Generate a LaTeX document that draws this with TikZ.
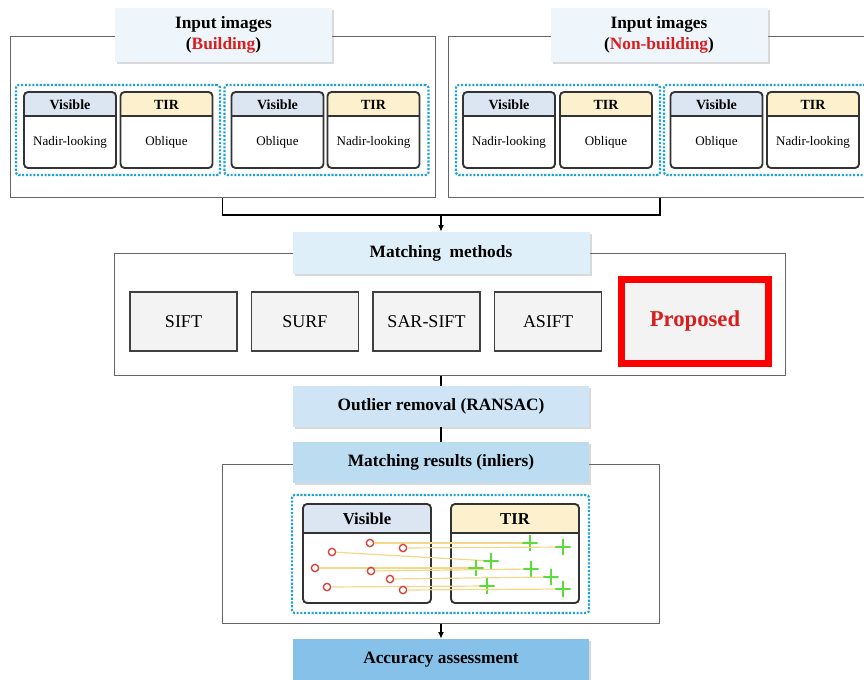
\documentclass[tikz,border=0pt]{standalone}
\usepackage{fontspec}
\setmainfont{Liberation Serif}
\usepackage{tikz}
\usetikzlibrary{shadows,arrows.meta}

\definecolor{titlefill}{HTML}{EEF5FB}
\definecolor{methfill}{HTML}{DFEFF9}
\definecolor{outfill}{HTML}{CFE5F5}
\definecolor{resfill}{HTML}{BCDCF1}
\definecolor{accfill}{HTML}{85C1E9}
\definecolor{visfill}{HTML}{DCE6F2}
\definecolor{tirfill}{HTML}{FDF0CC}
\definecolor{dotcyan}{HTML}{1FA2D5}
\definecolor{methgray}{HTML}{F3F3F3}
\definecolor{hotred}{HTML}{FF0000}
\definecolor{propred}{HTML}{D91E1E}
\definecolor{ptred}{HTML}{D9413A}
\definecolor{ptgreen}{HTML}{5ADD3A}
\definecolor{matchyel}{HTML}{F3D88C}

\tikzset{
	panel/.style={draw=black!60, line width=0.75pt, inner sep=0pt},
	headbox/.style={fill=#1, inner sep=0pt, align=center,
		drop shadow={shadow xshift=1.5pt, shadow yshift=-1.5pt, opacity=0.3},
		font=\fontsize{13}{15.5}\selectfont\bfseries},
	pairbox/.style={draw=dotcyan, line width=1.6pt, dash pattern=on 1.6pt off 1.2pt,
		rounded corners=2pt, inner sep=0pt},
	card/.style n args={2}{draw=black!80, line width=1.4pt, rounded corners=3pt,
		fill=white, inner sep=0pt,
		path picture={\fill[#1, sharp corners] (path picture bounding box.north west)
			rectangle ([yshift=-#2]path picture bounding box.north east);
			\draw[black!80, line width=1.4pt] ([yshift=-#2]path picture bounding box.north west)
			-- ([yshift=-#2]path picture bounding box.north east);}},
	cardhead/.style={font=\fontsize{10.5}{12}\selectfont\bfseries},
	cardbody/.style={font=\fontsize{9.8}{11}\selectfont},
	bighead/.style={font=\fontsize{12.5}{14}\selectfont\bfseries},
	method/.style={draw=black!75, line width=0.8pt, fill=methgray, inner sep=0pt,
		minimum width=80.25pt, minimum height=44.25pt, font=\fontsize{13.5}{15}\selectfont},
	link/.style={draw=black, line width=1.1pt},
	keypt/.style={circle, draw=ptred, line width=1pt, minimum size=5.5pt, inner sep=0pt},
	tirpt/.style={minimum size=11.5pt, inner sep=0pt,
		path picture={\draw[ptgreen, line width=1.9pt]
			(path picture bounding box.north) -- (path picture bounding box.south)
			(path picture bounding box.west) -- (path picture bounding box.east);}},
	match/.style={draw=matchyel, line width=0.9pt},
}

\begin{document}
\begin{tikzpicture}[x=0.75pt,y=-0.75pt]
	\useasboundingbox (0,0) rectangle (864,679);

	% input images
	\node[panel, minimum width=318.75pt, minimum height=120.75pt] (lbox) at (222.5,116.5) {};
	\node[panel, minimum width=318pt, minimum height=120.75pt] (rbox) at (660,116.5) {};
	\node[headbox=titlefill, minimum width=162.75pt, minimum height=40.5pt] (ltitle) at (223.5,35)
		{Input images\\(\textcolor{propred}{Building})};
	\node[headbox=titlefill, minimum width=162.75pt, minimum height=40.5pt] (rtitle) at (659,35)
		{Input images\\(\textcolor{propred}{Non-building})};
	\foreach \x/\n in {118/g1, 326.5/g2, 558/g3, 766/g4}
		\node[pairbox, minimum width=153pt, minimum height=67.5pt] (\n) at (\x,130) {};
	\foreach \x/\hc/\h/\b [count=\i] in {70/visfill/Visible/Nadir-looking, 166.5/tirfill/TIR/Oblique,
		277.5/visfill/Visible/Oblique, 373.5/tirfill/TIR/Nadir-looking,
		509/visfill/Visible/Nadir-looking, 606/tirfill/TIR/Oblique,
		716.5/visfill/Visible/Oblique, 813/tirfill/TIR/Nadir-looking}
	{
		\node[card={\hc}{18pt}, minimum width=69pt, minimum height=57pt] (c\i) at (\x,130) {};
		\node[cardhead] (c\i h) at (\x,104.5) {\h};
		\node[cardbody] (c\i b) at (\x,142.5) {\b};
	}

	% matching methods
	\coordinate (join) at (441,215);
	\draw[link] (lbox.south) |- (join) -| (rbox.south);
	\node[panel, minimum width=503.25pt, minimum height=91.5pt] (mbox) at (449.5,314) {};
	\node[headbox=methfill, minimum width=222.75pt, minimum height=31.5pt] (mtitle) at (441,253)
		{Matching\ \ methods};
	\draw[link, -{Latex[length=5pt,width=4.5pt]}] (join) -- (mtitle.north);
	\foreach \x/\m [count=\i] in {183.5/SIFT, 305/SURF, 426.5/SAR-SIFT, 548/ASIFT}
		\node[method] (m\i) at (\x,321.5) {\m};
	\node[method, draw=hotred, line width=5.25pt, minimum width=110.25pt, minimum height=63pt,
		text=propred, font=\fontsize{17}{20}\selectfont\bfseries] (prop) at (695,321.5) {Proposed};

	% outlier removal and results
	\node[headbox=outfill, minimum width=222pt, minimum height=30.75pt] (out) at (441,406.5)
		{Outlier removal (RANSAC)};
	\draw[link] (mbox.south -| out.north) -- (out.north);
	\node[panel, minimum width=327.75pt, minimum height=119.25pt] (rsbox) at (440.5,543.5) {};
	\node[headbox=resfill, minimum width=222pt, minimum height=30.75pt] (res) at (441,462.5)
		{Matching results (inliers)};
	\draw[link] (out) -- (res);
	\node[pairbox, minimum width=222.75pt, minimum height=88.5pt] (g5) at (440.5,554) {};
	\node[card={visfill}{21.75pt}, minimum width=96pt, minimum height=74.25pt] (vis) at (367,553.5) {};
	\node[bighead] (vis h) at (367,519) {Visible};
	\node[card={tirfill}{21.75pt}, minimum width=96pt, minimum height=74.25pt] (tir) at (515,553.5) {};
	\node[bighead] (tir h) at (515,519) {TIR};
	\foreach \vx/\vy/\tx/\ty [count=\i] in {370/543/530/543, 403/548/563/547, 332/552/491/561,
		315/568/476/568, 371/571/531/569, 390/579/551/577, 327/587/487/586, 403/590/563/589}
	{
		\node[keypt] (p\i) at (\vx,\vy) {};
		\coordinate (q\i) at (\tx,\ty);
		\draw[match] (p\i) -- (q\i);
		\node[tirpt] (t\i) at (q\i) {};
	}

	% accuracy
	\node[headbox=accfill, minimum width=222pt, minimum height=31.5pt] (acc) at (441,660)
		{Accuracy assessment};
	\draw[link, -{Latex[length=5pt,width=4.5pt]}] (rsbox.south -| acc.north) -- (acc.north);
\end{tikzpicture}
\end{document}
